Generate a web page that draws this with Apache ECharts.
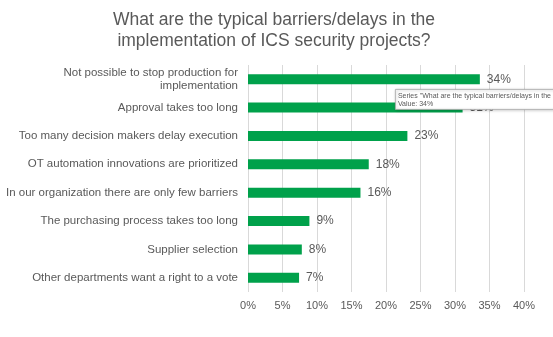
<!DOCTYPE html>
<html>
<head>
<meta charset="utf-8">
<script src="https://cdn.jsdelivr.net/npm/echarts@6/dist/echarts.min.js"></script>
<style>
html,body{margin:0;padding:0;background:#fff;}
#chart{width:553px;height:337px;}
</style>
</head>
<body>
<div id="chart"></div>
<script>
const titleLines = ["What are the typical barriers/delays in the", "implementation of ICS security projects?"];
const categories = [
  "Not possible to stop production for\nimplementation",
  "Approval takes too long",
  "Too many decision makers delay execution",
  "OT automation innovations are prioritized",
  "In our organization there are only few barriers",
  "The purchasing process takes too long",
  "Supplier selection",
  "Other departments want a right to a vote"
];
const values = [33.6, 31.1, 23.1, 17.5, 16.3, 8.9, 7.8, 7.4];
const xTicks = [0, 5, 10, 15, 20, 25, 30, 35, 40];
const tooltipLines = ["Series \"What are the typical barriers/delays in the implementation of ICS security projects?\"", "Value: 34%"];

const font = "'Liberation Sans', Arial, sans-serif";
const chart = echarts.init(document.getElementById('chart'), null, {renderer: 'canvas'});
chart.setOption({
  animation: false,
  backgroundColor: '#fff',
  title: {
    text: titleLines.join('\n'),
    left: 269, top: 5, textAlign: 'center',
    textStyle: {color: '#595959', fontSize: 17.5, fontWeight: 'normal', fontFamily: font, lineHeight: 21}
  },
  grid: {left: 248, right: 29, top: 65, bottom: 45, containLabel: false},
  xAxis: {
    type: 'value', min: xTicks[0], max: xTicks[xTicks.length - 1], interval: xTicks[1] - xTicks[0],
    axisLine: {show: false}, axisTick: {show: false},
    splitLine: {lineStyle: {color: '#d9d9d9', width: 1}},
    axisLabel: {formatter: '{value}%', color: '#595959', fontSize: 11, fontFamily: font, margin: 8}
  },
  yAxis: {
    type: 'category', data: categories, inverse: true,
    axisLine: {show: false}, axisTick: {show: false},
    axisLabel: {color: '#595959', fontSize: 11.5, fontFamily: font, margin: 10, align: 'right', lineHeight: 12.5}
  },
  series: [{
    type: 'bar', data: values, barWidth: 10,
    itemStyle: {color: '#00A14B'},
    label: {show: true, position: 'right', distance: 7, color: '#595959', fontSize: 12, fontFamily: font,
      formatter: p => Math.round(p.value) + '%'}
  }],
  graphic: [{
    type: 'group', left: 395, top: 89, z: 100,
    children: [
      {type: 'rect', z: 100, shape: {x: 0, y: 0, width: 170, height: 20},
       style: {fill: '#fff', stroke: '#a6a6a6', lineWidth: 0.8, shadowBlur: 3, shadowColor: 'rgba(0,0,0,0.25)', shadowOffsetX: 1, shadowOffsetY: 1}},
      {type: 'text', z: 101, x: 2.5, y: 2.5, style: {text: tooltipLines.join('\n'), fill: '#595959', fontSize: 7, fontFamily: font, lineHeight: 8}}
    ]
  }]
});
</script>
</body>
</html>
